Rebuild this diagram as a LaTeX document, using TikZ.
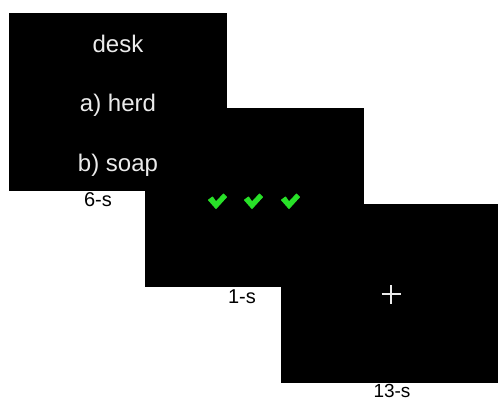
\documentclass[tikz,border=0pt]{standalone}
\usepackage{fontspec}
\setmainfont{Liberation Sans}
\definecolor{checkgreen}{RGB}{40,225,40}
\definecolor{screentext}{RGB}{235,235,235}
\tikzset{
  screen/.style={fill=black, draw=none, inner sep=0pt, outer sep=0pt},
  word/.style={text=screentext, inner sep=0pt, anchor=base, font=\fontsize{24bp}{28bp}\selectfont},
  dur/.style={text=black, inner sep=0pt, anchor=base, font=\fontsize{20bp}{24bp}\selectfont},
  chk/.style={fill=checkgreen, draw=checkgreen, line width=1bp, line join=round},
}
\begin{document}
\begin{tikzpicture}[x=1bp, y=-1bp]
\useasboundingbox (0,0) rectangle (498,400);
% screens
\node[screen, minimum width=218bp, minimum height=178bp] (s1) at (118,102) {};
\node[screen, minimum width=219bp, minimum height=179bp] (s2) at (254.5,197.5) {};
\node[screen, minimum width=218bp, minimum height=179bp] (s3) at (390,293.5) {};
% screen 1 text
\node[word] (w1) at (118,52) {desk};
\node[word] (w2) at (118,111) {a) herd};
\node[word] (w3) at (118,171) {b) soap};
% checkmarks
\foreach \cx/\nm in {217/c1, 253/c2, 290/c3}{
  \coordinate (\nm) at (\cx,202);
  \fill[chk] ([shift={(-8.5,-2)}]\nm) -- ([shift={(-4.5,-5)}]\nm) -- ([shift={(-1,0)}]\nm)
    -- ([shift={(6.5,-8)}]\nm) -- ([shift={(9.5,-5)}]\nm) -- ([shift={(-1,6.5)}]\nm) -- cycle;
}
% fixation cross
\coordinate (fx) at (391,294);
\draw[screentext, line width=2.8bp] ([xshift=-9.5bp]fx) -- ([xshift=9.5bp]fx);
\draw[screentext, line width=2.8bp] ([yshift=-9.5bp]fx) -- ([yshift=9.5bp]fx);
% durations
\node[dur] (d1) at (98,206) {6-s};
\node[dur] (d2) at (242,303) {1-s};
\node[dur, font=\fontsize{19bp}{23bp}\selectfont] (d3) at (392,397.5) {13-s};
\end{tikzpicture}
\end{document}
